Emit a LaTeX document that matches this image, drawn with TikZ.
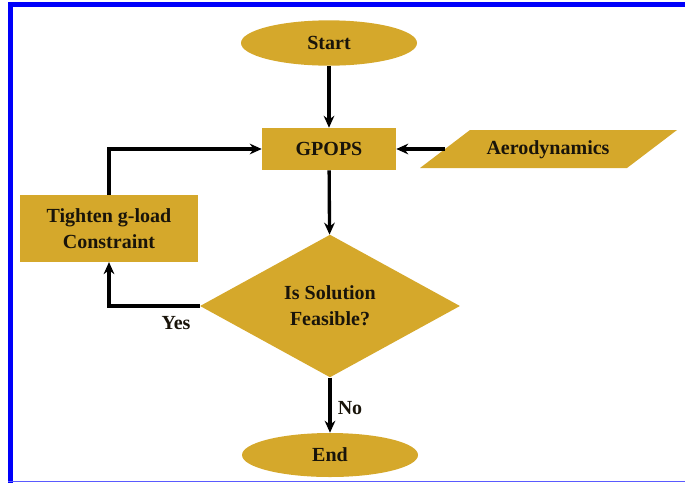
\documentclass[tikz,border=0pt]{standalone}
\usepackage{fontspec}
\setmainfont{Liberation Serif}
\usetikzlibrary{shapes.geometric,arrows.meta}
\definecolor{gold}{RGB}{213,168,43}
\definecolor{frameblue}{RGB}{0,0,250}
\definecolor{lineblue}{RGB}{90,90,255}
\definecolor{txt}{RGB}{25,20,10}
\begin{document}
\begin{tikzpicture}[x=0.75pt,y=-0.75pt,
  every node/.style={font=\fontsize{15}{19.5}\selectfont\bfseries, text=txt},
  term/.style={ellipse, fill=gold, inner sep=0pt, minimum width=132pt, minimum height=34pt},
  procbox/.style={rectangle, fill=gold, inner sep=0pt, align=center},
  decbox/.style={diamond, fill=gold, inner sep=0pt, align=center, minimum width=195pt, minimum height=107pt},
  arr/.style={line width=2.5pt, -{Stealth[length=9pt,width=8pt]}},
  lbl/.style={inner sep=1pt}]
\useasboundingbox (0,0) rectangle (685,483);
% frame
\fill[frameblue] (8,2) rectangle (685,7);
\fill[frameblue] (8,2) rectangle (13,483);
\draw[lineblue, line width=1.2pt] (8,481.5) -- (685,481.5);
% nodes
\node[term] (start) at (329,43) {Start};
\node[procbox, minimum width=100.5pt, minimum height=31.5pt] (gpops) at (329,149) {GPOPS};
\fill[gold] (470,130) -- (677,130) -- (627,168) -- (420,168) -- cycle;
\node (aero) at (548,150) {Aerodynamics};
\coordinate (aerotail) at (445,149);
\node[procbox, minimum width=133.5pt, minimum height=50pt] (tight) at (109,228.5) {Tighten g-load\\Constraint};
\node[decbox] (dec) at (330,306) {Is Solution\\Feasible?};
\node[term, minimum height=33pt] (end) at (330,455) {End};
% connectors
\draw[arr] (start) -- (gpops);
\draw[arr] (aerotail) -- (gpops.east);
\draw[arr] (gpops) -- (dec);
\draw[arr] (dec.west) -| (tight.south);
\draw[arr] (tight.north) |- (gpops.west);
\draw[arr] (dec.south) -- (end);
\node[lbl] (yes) at (176,323) {Yes};
\node[lbl] (no) at (350,408) {No};
\end{tikzpicture}
\end{document}
